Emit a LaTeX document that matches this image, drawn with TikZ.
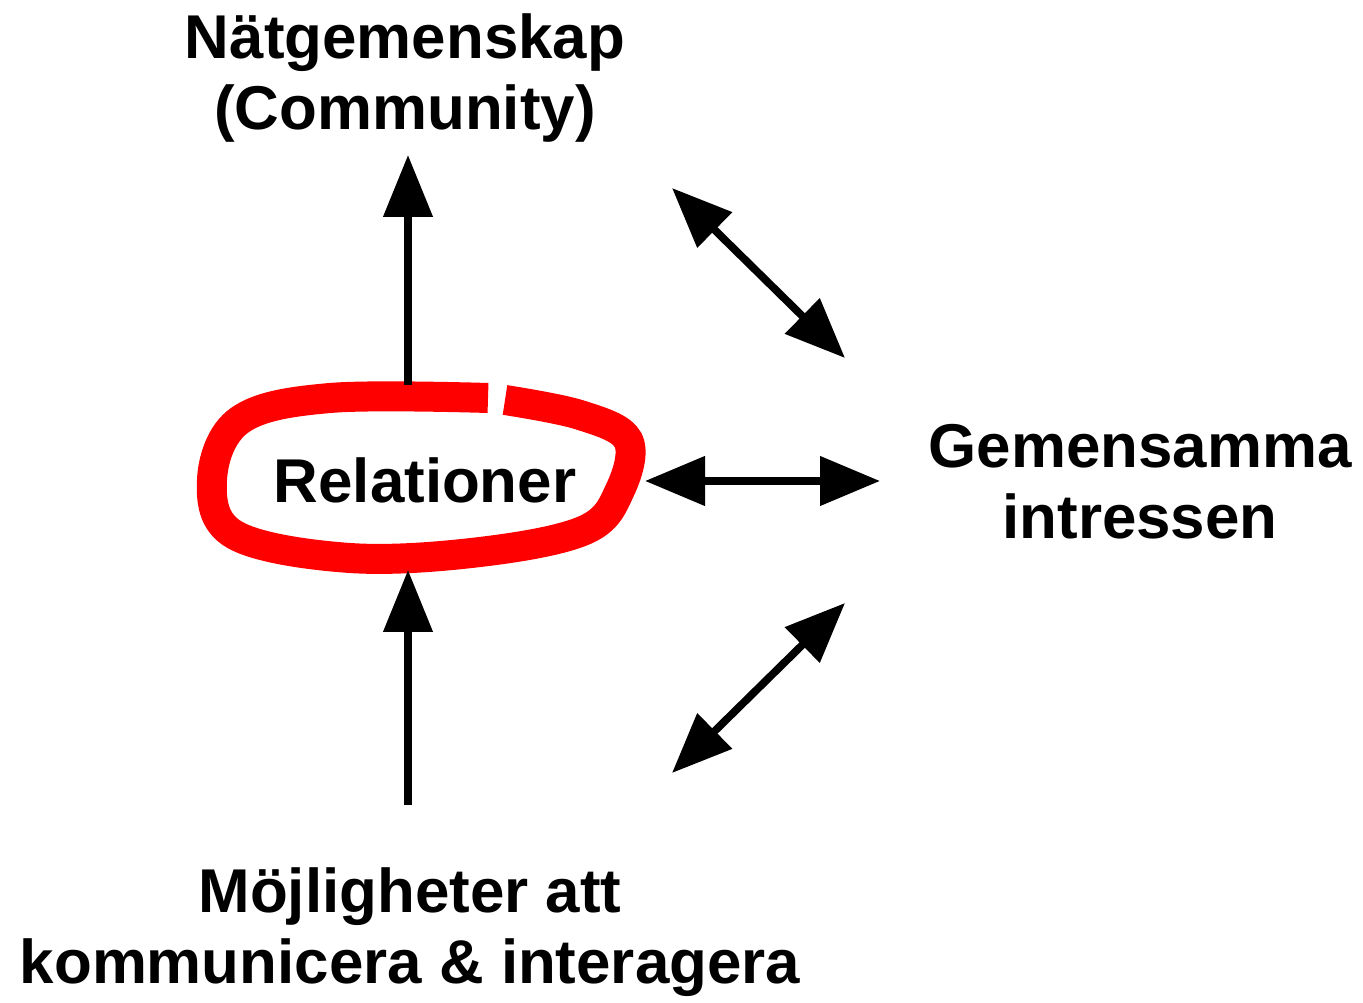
\documentclass[tikz,border=0pt]{standalone}
\usepackage{fontspec}
\setmainfont{Liberation Sans}
\usetikzlibrary{arrows.meta}
\begin{document}
\begin{tikzpicture}[label/.style={align=center, font=\bfseries\fontsize{17.6}{20.3}\selectfont, inner sep=0pt},
  pil/.style={line width=2.2pt, -{Triangle[length=0.62cm, width=0.48cm]}},
  dubbel/.style={line width=2.2pt, {Triangle[length=0.6cm, width=0.48cm]}-{Triangle[length=0.6cm, width=0.48cm]}}]
\useasboundingbox (0,0) rectangle (13.63,10.02);

% texter
\node[label] (natgem) at (4.05,9.24) {Nätgemenskap\\(Community)};
\node[label] (rel) at (4.25,5.22) {Relationer};
\node[label] (gemint) at (11.4,5.20) {Gemensamma\\intressen};
\node[label] (mojl) at (4.1,0.70) {Möjligheter att\\kommunicera \& interagera};

% ringen
\draw[red, line width=0.3cm] plot[smooth, tension=0.6] coordinates {(5.05,6.02) (5.80,5.87) (6.28,5.62) (6.20,5.12) (5.85,4.72) (4.80,4.50) (3.50,4.44) (2.35,4.67) (2.12,5.22) (2.40,5.82) (3.30,6.04) (4.88,6.04)};

% pilar
\coordinate (upp1) at (4.08,6.17);
\coordinate (upp2) at (4.08,8.47);
\coordinate (ned1) at (4.08,1.97);
\coordinate (ned2) at (4.08,4.32);
\coordinate (h1) at (6.45,5.21);
\coordinate (h2) at (8.8,5.21);
\coordinate (d1) at (6.72,8.14);
\coordinate (d2) at (8.45,6.44);
\coordinate (d3) at (6.72,2.29);
\coordinate (d4) at (8.45,3.99);
\draw[pil] (upp1)--(upp2);
\draw[pil] (ned1)--(ned2);
\draw[dubbel] (h1)--(h2);
\draw[dubbel] (d1)--(d2);
\draw[dubbel] (d3)--(d4);
\end{tikzpicture}
\end{document}
